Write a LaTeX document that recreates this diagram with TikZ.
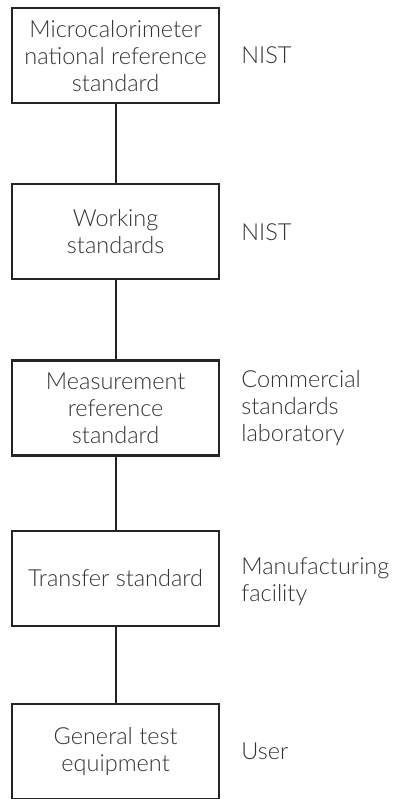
\documentclass[tikz,border=0pt]{standalone}
\usepackage{fontspec}
\setmainfont{Lato Light}
\usetikzlibrary{positioning}
\definecolor{linegray}{HTML}{262324}
\definecolor{textgray}{HTML}{333333}
\tikzstyle{block} = [draw=linegray, line width=2.2pt, rectangle, minimum width=207pt, minimum height=95pt, align=center, text=textgray, font=\fontsize{23.5}{27}\selectfont]
\tikzstyle{tag} = [inner sep=0pt, align=left, text=textgray, font=\fontsize{23.5}{27}\selectfont]
\tikzstyle{link} = [draw=linegray, line width=2.2pt]

\begin{document}
\begin{tikzpicture}[x=1pt,y=1pt]
    \useasboundingbox (0,0) rectangle (393,-799);
    \node[block, anchor=north west] (micro) at (11,-7) {Microcalorimeter\\national reference\\standard};
    \node[block, below=79pt of micro] (working) {Working\\standards};
    \node[block, below=79pt of working] (measure) {Measurement\\reference\\standard};
    \node[block, below=73pt of measure] (transfer) {Transfer standard};
    \node[block, below=76pt of transfer] (general) {General test\\equipment};
    \node[tag, right=21pt of micro] (nist1) {NIST};
    \node[tag, right=21pt of working] (nist2) {NIST};
    \node[tag, right=21pt of measure] (commercial) {Commercial\\standards\\laboratory};
    \node[tag, right=21pt of transfer, yshift=-3pt] (facility) {Manufacturing\\facility};
    \node[tag, right=21pt of general] (user) {User};
    \draw[link] (micro) -- (working);
    \draw[link] (working) -- (measure);
    \draw[link] (measure) -- (transfer);
    \draw[link] (transfer) -- (general);
\end{tikzpicture}
\end{document}
